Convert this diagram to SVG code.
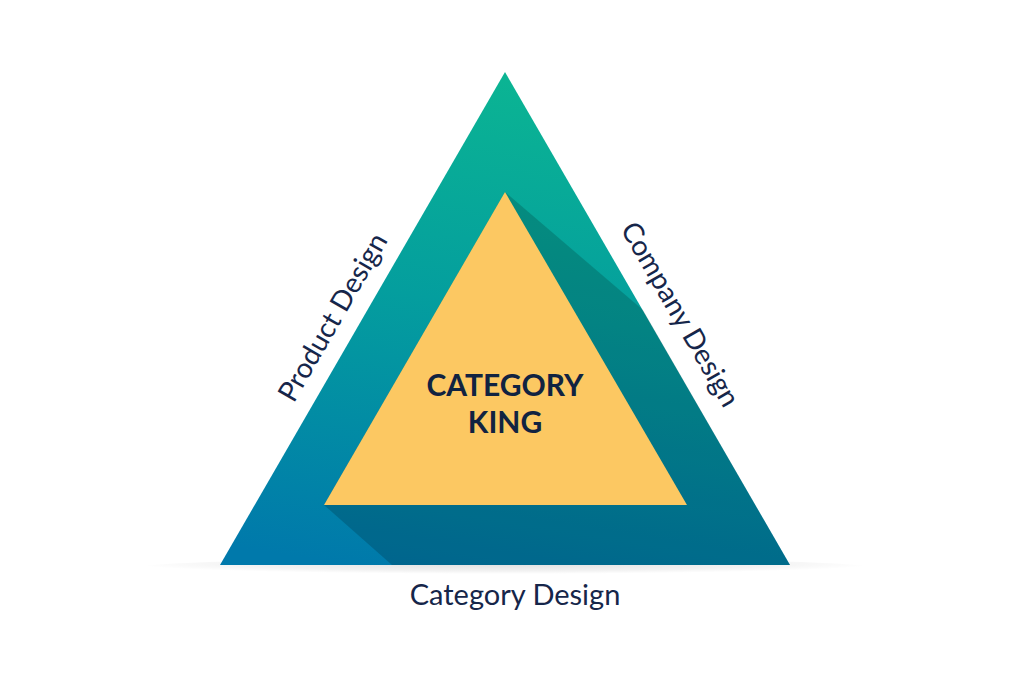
<svg xmlns="http://www.w3.org/2000/svg" width="1011" height="673" viewBox="0 0 1011 673">
<defs>
<linearGradient id="outerGrad" gradientUnits="userSpaceOnUse" x1="520" y1="80" x2="440" y2="580">
<stop offset="0" stop-color="#0BB493"/>
<stop offset="0.45" stop-color="#049E9E"/>
<stop offset="1" stop-color="#0079AB"/>
</linearGradient>
<radialGradient id="floorShadow" cx="0.5" cy="0.3" r="0.5">
<stop offset="0" stop-color="#000" stop-opacity="0.12"/>
<stop offset="0.7" stop-color="#000" stop-opacity="0.05"/>
<stop offset="1" stop-color="#000" stop-opacity="0"/>
</radialGradient>
<style>
.label{font-family:Lato,"Liberation Sans",sans-serif;fill:#16264A;text-anchor:middle}
.side{font-size:28px}
.core{font-family:Lato,"Liberation Sans",sans-serif;font-weight:bold;font-size:30px;fill:#112341;text-anchor:middle}
</style>
</defs>
<rect width="1011" height="673" fill="#FFFFFF"/>
<ellipse cx="505" cy="568" rx="370" ry="10" fill="url(#floorShadow)"/>
<g id="outer-triangle">
<polygon points="505,72 790,565 220,565" fill="url(#outerGrad)"/>
<polygon points="505,192 643,310 790,565 392,565 324,505" fill="#000" fill-opacity="0.17"/>
</g>
<g id="inner-triangle">
<polygon points="505,192 687,505 324,505" fill="#FCC862"/>
<text class="core" x="505" y="396">CATEGORY</text>
<text class="core" x="505" y="433">KING</text>
</g>
<g id="product-design">
<text class="label side" transform="translate(341,322) rotate(-60)">Product Design</text>
</g>
<g id="company-design">
<text class="label side" transform="translate(672,319) rotate(60)">Company Design</text>
</g>
<g id="category-design">
<text class="label" x="515" y="605" font-size="29">Category Design</text>
</g>
<g id="connectors"/>
</svg>
